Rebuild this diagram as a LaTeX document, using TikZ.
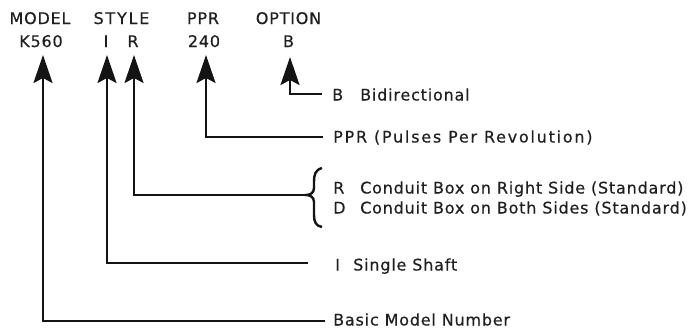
\documentclass[tikz,border=0pt]{standalone}
\usepackage{fontspec}
\setmainfont{DejaVu Sans}[LetterSpace=5,FakeBold=0.4]
\usetikzlibrary{arrows.meta}
\begin{document}
\begin{tikzpicture}[x=1pt,y=-1pt,
  txt/.style={inner sep=0pt, font=\fontsize{16pt}{19pt}\selectfont, text=black!88},
  wide/.style={txt, font=\fontsize{16pt}{19pt}\selectfont\addfontfeatures{LetterSpace=11}},
  lead/.style={line width=2.4pt, line cap=butt, line join=miter, draw=black!92},
  ptr/.style={lead, -{Stealth[length=28pt,width=19pt,inset=5pt]}},
]
\useasboundingbox (0,0) rectangle (695,330);

% column headings
\node[txt,anchor=base]  (hModel) at (40,24)    {MODEL};
\node[wide,anchor=base] (hStyle) at (121.5,24) {STYLE};
\node[txt,anchor=base]  (hPpr)   at (203,24)   {PPR};
\node[txt,anchor=base]  (hOpt)   at (288.5,24) {OPTION};

% example code
\node[txt,anchor=base] (cK) at (41,47)    {K560};
\node[txt,anchor=base] (cI) at (106,47)   {I};
\node[txt,anchor=base] (cR) at (133,47)   {R};
\node[txt,anchor=base] (cP) at (204,47)   {240};
\node[txt,anchor=base] (cB) at (288.5,47) {B};

% explanations
\node[txt,anchor=base west]  (kB) at (332,100.5) {B};
\node[txt,anchor=base west]  (dB) at (360,100.5) {Bidirectional};
\node[wide,anchor=base west] (dP) at (333,142.5) {PPR (Pulses Per Revolution)};
\node[txt,anchor=base west]  (kR) at (333,193.5) {R};
\node[txt,anchor=base west]  (dR) at (360,193.5) {Conduit Box on Right Side (Standard)};
\node[txt,anchor=base west]  (kD) at (333,213.5) {D};
\node[txt,anchor=base west]  (dD) at (360,213.5) {Conduit Box on Both Sides (Standard)};
\node[txt,anchor=base west]  (kI) at (335,270.5) {I};
\node[txt,anchor=base west]  (dI) at (353,270.5) {Single Shaft};
\node[txt,anchor=base west]  (dM) at (333,325.5) {Basic Model Number};

% arrow tips under the code characters
\coordinate (tK) at (43,55);
\coordinate (tI) at (107,55);
\coordinate (tR) at (134,55);
\coordinate (tP) at (206,55);
\coordinate (tB) at (290,57);

% free ends of the leader lines
\coordinate (eB) at (322,94);
\coordinate (eP) at (323,137);
\coordinate (eR) at (306,195);
\coordinate (eI) at (308,263);
\coordinate (eM) at (325,321);

\draw[ptr] (eB) -| (tB);
\draw[ptr] (eP) -| (tP);
\draw[ptr] (eR) -| (tR);
\draw[ptr] (eI) -| (tI);
\draw[ptr] (eM) -| (tK);

% brace grouping the R and D options
\draw[lead] (322,168) .. controls (315,170) and (314,175) .. (314,182)
  -- (314,188) .. controls (314,193) and (310,195) .. (eR)
  .. controls (310,195) and (314,197) .. (314,202)
  -- (314,215) .. controls (314,222) and (316,226) .. (322,227);
\end{tikzpicture}
\end{document}
